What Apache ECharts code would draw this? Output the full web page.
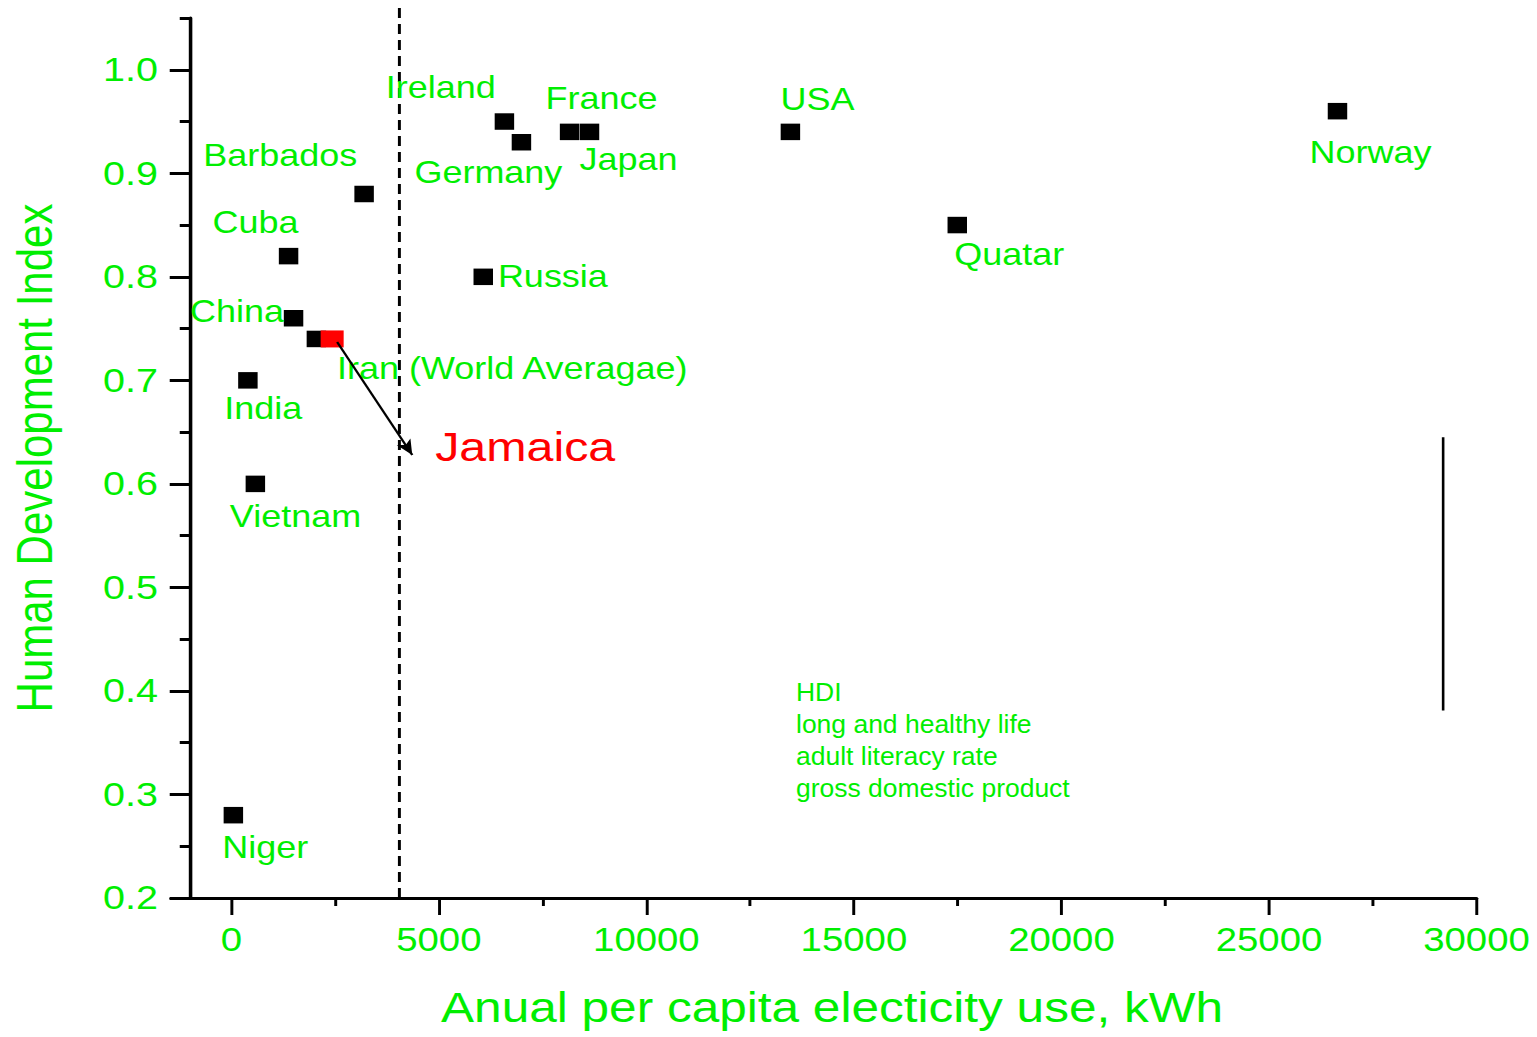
<!DOCTYPE html>
<html><head><meta charset="utf-8">
<script src="https://cdn.jsdelivr.net/npm/echarts@6/dist/echarts.min.js"></script>
<style>
html,body{margin:0;padding:0;background:#fff;overflow:hidden;width:1537px;height:1037px}
#chart{width:1302.54px;height:1037px;transform:scaleX(1.18);transform-origin:0 0;}
</style>
</head><body><div id="chart"></div>
<script>
// ---------- data ----------
const countries = ['Niger','Vietnam','India','China','Cuba','Barbados','Iran (World Averagae)','Russia','Ireland','Germany','France','Japan','USA','Quatar','Norway'];
const electricity = [50, 580, 400, 1500, 1380, 3200, 2050, 6070, 6580, 6990, 8150, 8630, 13470, 17490, 26650];
const hdi = [0.28, 0.60, 0.70, 0.76, 0.82, 0.88, 0.74, 0.80, 0.95, 0.93, 0.94, 0.94, 0.94, 0.85, 0.96];
const highlightNames = ['Jamaica'];
const highlightElectricity = [2430];
const highlightHdi = [0.74];
const xTickValues = [0, 5000, 10000, 15000, 20000, 25000, 30000];
const xMinorTickValues = [2500, 7500, 12500, 17500, 22500, 27500];
const yTickValues = [0.2, 0.3, 0.4, 0.5, 0.6, 0.7, 0.8, 0.9, 1.0];
const yMinorTickValues = [0.25, 0.35, 0.45, 0.55, 0.65, 0.75, 0.85, 0.95, 1.05];
const thresholdElectricity = [4050, 4050];
const thresholdHdi = [0.2, 1.062];
const arrowFrom = [2550, 0.737];
const arrowTo = [4360, 0.628];
const barElectricity = [29180, 29180];
const barHdi = [0.381, 0.645];
const hdiNote = ['HDI', 'long and healthy life', 'adult literacy rate', 'gross domestic product'];

// ---------- styles / layout ----------
const S = 1.18;
const GREEN = '#00ee00';
const FONT = '"Liberation Sans", Arial, Helvetica, sans-serif';
const X_MIN = -1450, X_MAX = 30000, Y_MIN = 0.2, Y_MAX = 1.05;
const GRID = {left: 145, right: 51.7, top: 18, bottom: 139};
const plotW = 1302.54 - GRID.left - GRID.right;
const yAxisOffset = -((-1000 - X_MIN) / (X_MAX - X_MIN)) * plotW;
const labelOffsets = {
  'Niger': [27, 32], 'Vietnam': [34, 33], 'India': [13, 28], 'China': [-48, -7],
  'Cuba': [-28, -34], 'Barbados': [-71, -39], 'Iran (World Averagae)': [166, 30],
  'Russia': [59, 0], 'Ireland': [-54, -34], 'Germany': [-28, 30], 'France': [27, -33],
  'Japan': [33, 28], 'USA': [23, -32], 'Quatar': [44, 29], 'Norway': [28, 41]
};
const highlightOffsets = {'Jamaica': [163.6, 108]};

const mainData = countries.map((n, i) => ({
  name: n, value: [electricity[i], hdi[i]],
  label: {offset: labelOffsets[n]}
}));
const highlightData = highlightNames.map((n, i) => ({
  name: n, value: [highlightElectricity[i], highlightHdi[i]],
  label: {offset: highlightOffsets[n]}
}));

const chart = echarts.init(document.getElementById('chart'), null, {renderer: 'svg'});
chart.setOption({
  animation: false,
  backgroundColor: '#fff',
  grid: [Object.assign({}, GRID), Object.assign({}, GRID)],
  xAxis: [{
    type: 'value', gridIndex: 0, min: X_MIN, max: X_MAX, position: 'bottom',
    splitLine: {show: false},
    axisLine: {show: true, onZero: false, lineStyle: {color: '#000', width: 3}},
    axisTick: {show: true, customValues: xTickValues, length: 17, lineStyle: {color: '#000', width: 2.5}},
    axisLabel: {customValues: xTickValues, color: GREEN, fontSize: 32.5, fontFamily: FONT, margin: 26,
      formatter: v => String(v)},
    name: 'Anual per capita electicity use, kWh', nameLocation: 'middle', nameGap: 88,
    nameTextStyle: {color: GREEN, fontSize: 42, fontFamily: FONT, padding: [0, 0, 0, 14]}
  }, {
    type: 'value', gridIndex: 1, min: X_MIN, max: X_MAX, position: 'bottom',
    splitLine: {show: false}, axisLine: {show: false, onZero: false},
    axisTick: {show: true, customValues: xMinorTickValues, length: 8, lineStyle: {color: '#000', width: 2.5}},
    axisLabel: {show: false}
  }],
  yAxis: [{
    type: 'value', gridIndex: 0, min: Y_MIN, max: Y_MAX, position: 'left', offset: yAxisOffset,
    splitLine: {show: false},
    axisLine: {show: true, onZero: false, lineStyle: {color: '#000', width: 3}},
    axisTick: {show: true, customValues: yTickValues, length: 17, lineStyle: {color: '#000', width: 3}},
    axisLabel: {customValues: yTickValues, color: GREEN, fontSize: 33.5, fontFamily: FONT, margin: 27,
      formatter: v => Number(v).toFixed(1)},
    name: 'Human Development Index', nameLocation: 'middle', nameGap: 110,
    nameTextStyle: {color: GREEN, fontSize: 42, fontFamily: FONT}
  }, {
    type: 'value', gridIndex: 1, min: Y_MIN, max: Y_MAX, position: 'left', offset: yAxisOffset,
    splitLine: {show: false}, axisLine: {show: false, onZero: false},
    axisTick: {show: true, customValues: yMinorTickValues, length: 8.5, lineStyle: {color: '#000', width: 3}},
    axisLabel: {show: false}
  }],
  graphic: [{
    type: 'text', x: 796 / S, y: 676, scaleX: 1 / S, silent: true,
    style: {text: hdiNote.join('\n'), fill: GREEN, fontSize: 26.5, fontFamily: FONT, lineHeight: 32}
  }],
  series: [{
    type: 'line', xAxisIndex: 0, yAxisIndex: 0, clip: false, silent: true, z: 1,
    symbol: 'none',
    data: thresholdElectricity.map((x, i) => [x, thresholdHdi[i]]),
    lineStyle: {color: '#000', width: 2.5, type: [10, 6]}
  }, {
    type: 'scatter', xAxisIndex: 0, yAxisIndex: 0, z: 3,
    symbol: 'rect', symbolSize: [16.5, 16.5],
    itemStyle: {color: '#000', opacity: 1},
    label: {show: true, position: 'inside', formatter: '{b}', color: GREEN, fontSize: 30.5, fontFamily: FONT},
    data: mainData,
    markLine: {
      silent: true, animation: false, symbol: ['none', 'none'],
      label: {show: false},
      lineStyle: {color: '#000', width: 2.2, type: 'solid', opacity: 1},
      data: [[{coord: [barElectricity[0], barHdi[0]]}, {coord: [barElectricity[1], barHdi[1]]}]]
    }
  }, {
    type: 'scatter', xAxisIndex: 0, yAxisIndex: 0, z: 4,
    symbol: 'rect', symbolSize: [19.5, 17],
    itemStyle: {color: '#ff0000', opacity: 1},
    label: {show: true, position: 'inside', formatter: '{b}', color: '#ff0000', fontSize: 41, fontFamily: FONT},
    data: highlightData,
    markLine: {
      silent: true, animation: false, symbol: ['none', 'arrow'], symbolSize: [10, 15],
      label: {show: false},
      lineStyle: {color: '#000', width: 2, type: 'solid', opacity: 1},
      data: [[{coord: arrowFrom}, {coord: arrowTo}]]
    }
  }]
});
</script>
</body></html>
